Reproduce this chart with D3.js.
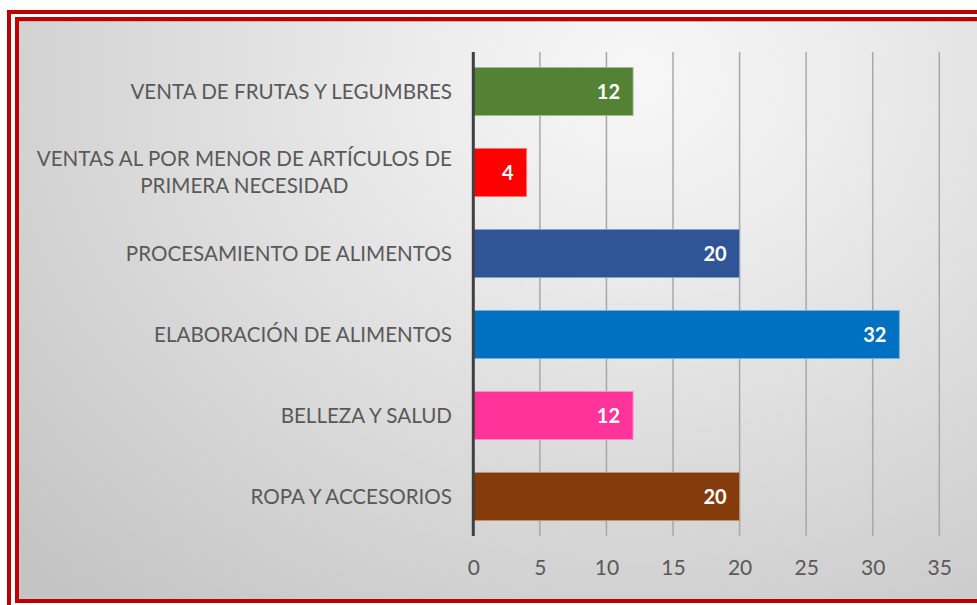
<!DOCTYPE html>
<html>
<head>
<meta charset="utf-8">
<script src="https://cdn.jsdelivr.net/npm/d3@7"></script>
<style>
  html, body { margin: 0; padding: 0; background: #fff; }
  svg { display: block; }
</style>
</head>
<body>
<svg id="chart" width="977" height="605"></svg>
<script>
// ── DATA ─────────────────────────────────────────────────────
const categories = [
  ['VENTA DE FRUTAS Y LEGUMBRES'],
  ['VENTAS AL POR MENOR DE ARTÍCULOS DE', 'PRIMERA NECESIDAD'],
  ['PROCESAMIENTO DE ALIMENTOS'],
  ['ELABORACIÓN DE ALIMENTOS'],
  ['BELLEZA Y SALUD'],
  ['ROPA Y ACCESORIOS']
];
const values = [12, 4, 20, 32, 12, 20];
const barColors = ['#548235', '#FF0000', '#2F5597', '#0070C0', '#FF3399', '#843C0C'];
const xTicks = [0, 5, 10, 15, 20, 25, 30, 35];

// ── SETUP ────────────────────────────────────────────────────
const W = 977, H = 605;
const FONT = 'Lato, "Open Sans", sans-serif';
const TEXT = '#595959';
const svg = d3.select('#chart');

const defs = svg.append('defs');
const bg = defs.append('radialGradient')
  .attr('id', 'bg').attr('cx', '0.62').attr('cy', '0.1').attr('r', '0.85')
  .attr('gradientTransform', 'translate(0.62,0.1) scale(1,1.4) translate(-0.62,-0.1)');
bg.append('stop').attr('offset', '0').attr('stop-color', '#f7f7f7');
bg.append('stop').attr('offset', '0.25').attr('stop-color', '#ececec');
bg.append('stop').attr('offset', '1').attr('stop-color', '#c4c4c4');

// frame: two red lines, background panel
svg.append('rect').attr('x', 9).attr('y', 12).attr('width', W + 20).attr('height', H + 20)
  .attr('fill', 'none').attr('stroke', '#C00000').attr('stroke-width', 4);
svg.append('rect').attr('x', 17).attr('y', 19).attr('width', W + 20).attr('height', 582)
  .attr('fill', 'url(#bg)').attr('stroke', '#C00000').attr('stroke-width', 4);
svg.append('line').attr('x1', 19).attr('x2', W).attr('y1', 21.5).attr('y2', 21.5)
  .attr('stroke', '#b8b8b8').attr('stroke-width', 1);

// ── SCALES ───────────────────────────────────────────────────
const x = d3.scaleLinear().domain([0, 35]).range([473.3, 939.3]);
const y = d3.scaleBand().domain(d3.range(categories.length))
  .range([51, 537]).paddingInner(0.407).paddingOuter(0.2035);

// gridlines (with outside tick marks)
svg.append('g').selectAll('line').data(xTicks.filter(d => d > 0)).join('line')
  .attr('x1', d => x(d)).attr('x2', d => x(d))
  .attr('y1', 52).attr('y2', 536)
  .attr('stroke', '#a8a8a8').attr('stroke-width', 1.5);

// x axis labels
const xAxis = d3.axisBottom(x).tickValues(xTicks).tickSize(0).tickPadding(0);
const gx = svg.append('g').attr('transform', 'translate(0,560)').call(xAxis);
gx.select('.domain').remove();
gx.selectAll('text')
  .attr('fill', TEXT).attr('font-family', FONT).attr('font-size', 21)
  .attr('dy', '0.71em');

// bars
svg.append('g').selectAll('rect').data(values).join('rect')
  .attr('x', x(0)).attr('y', (d, i) => y(i))
  .attr('width', d => x(d) - x(0)).attr('height', y.bandwidth())
  .attr('fill', (d, i) => barColors[i])
  .attr('stroke', (d, i) => d3.interpolateRgb(barColors[i], '#ffffff')(0.45))
  .attr('stroke-width', 1);

// value labels
svg.append('g').selectAll('text').data(values).join('text')
  .attr('x', d => x(d) - 13)
  .attr('y', (d, i) => y(i) + y.bandwidth() / 2)
  .attr('dy', '0.36em')
  .attr('text-anchor', 'end')
  .attr('fill', '#fff').attr('font-family', FONT).attr('font-weight', 'bold')
  .attr('font-size', 20)
  .text(d => d);

// vertical axis line
svg.append('line').attr('x1', x(0)).attr('x2', x(0)).attr('y1', 52).attr('y2', 536)
  .attr('stroke', '#404040').attr('stroke-width', 3);

// category labels
const cat = svg.append('g').selectAll('text').data(categories).join('text')
  .attr('fill', TEXT).attr('font-family', FONT).attr('font-size', 20.6)
  .attr('text-anchor', 'middle');
cat.each(function (lines, i) {
  const t = d3.select(this);
  const cy = y(i) + y.bandwidth() / 2;
  const lh = 27;
  lines.forEach((s, k) => {
    t.append('tspan').attr('x', 0)
      .attr('y', cy + (k - (lines.length - 1) / 2) * lh)
      .attr('dy', '0.36em').text(s);
  });
  // right-align the block against the axis
  const w = this.getBBox().width;
  t.attr('transform', `translate(${452 - w / 2},0)`);
});
</script>
</body>
</html>
